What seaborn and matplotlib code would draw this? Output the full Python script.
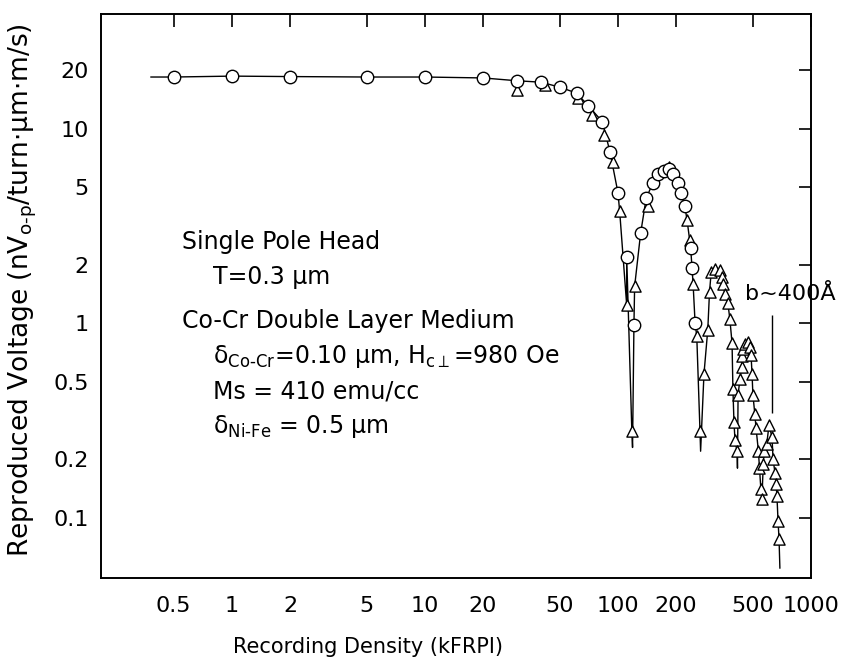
import numpy as np
import pandas as pd
import seaborn as sns
import matplotlib.pyplot as plt

# circles (measured points, series 1)
circle_x = [0.5, 1, 2, 5, 10, 20, 30, 40, 50, 61, 70, 83, 91, 100, 111, 121,
            131, 140, 152, 161, 173, 184, 193, 205, 212, 222, 238, 242, 251]
circle_y = [18.5, 18.7, 18.6, 18.5, 18.5, 18.3, 17.7, 17.4, 16.4, 15.3, 13.2,
            10.9, 7.6, 4.7, 2.2, 0.98, 2.9, 4.4, 5.3, 5.9, 6.1, 6.2, 5.9, 5.3,
            4.7, 4.0, 2.45, 1.92, 1.0]

# triangles (measured points, series 2)
tri_x = [30, 42, 62, 73, 85, 94, 102, 111, 118, 122, 143, 184,
         228, 235, 245, 256, 266,
         279, 292, 298, 304, 318, 338, 346, 350, 358, 371, 380, 390, 394, 399, 404, 414,
         419, 429, 437, 441, 444, 455, 470, 483, 489, 495, 500, 512, 519, 534, 541, 550, 557,
         566, 572, 590, 606, 628, 636, 651, 659, 666, 675, 683]
tri_y = [15.8, 16.8, 14.4, 11.8, 9.3, 6.8, 3.8, 1.24, 0.28, 1.55, 4.0, 6.4,
         3.4, 2.7, 1.6, 0.86, 0.28,
         0.55, 0.93, 1.45, 1.83, 1.91, 1.89, 1.74, 1.60, 1.42, 1.27, 1.05, 0.79, 0.46, 0.31, 0.25, 0.22,
         0.43, 0.52, 0.60, 0.68, 0.74, 0.78, 0.80, 0.76, 0.69, 0.55, 0.43, 0.34, 0.29, 0.22, 0.18, 0.14, 0.125,
         0.19, 0.22, 0.24, 0.30, 0.26, 0.20, 0.17, 0.15, 0.13, 0.096, 0.078]

# extra vertices of the drawn curve (start and bottoms of the dips)
curve_x = [0.38, 119, 268, 416, 690]
curve_y = [18.5, 0.23, 0.22, 0.18, 0.055]

x_ticks = [0.5, 1, 2, 5, 10, 20, 50, 100, 200, 500, 1000]
x_labels = ["0.5", "1", "2", "5", "10", "20", "50", "100", "200", "500", "1000"]
y_ticks = [0.1, 0.2, 0.5, 1, 2, 5, 10, 20]
y_labels = ["0.1", "0.2", "0.5", "1", "2", "5", "10", "20"]

circles = pd.DataFrame({"x": circle_x, "y": circle_y})
tris = pd.DataFrame({"x": tri_x, "y": tri_y})
extra = pd.DataFrame({"x": curve_x, "y": curve_y})

# the curve follows the circles on the plateau, both sets further on
on_curve = (tris.x >= 100) & ~tris.x.between(130, 200)
curve = pd.concat([circles, tris[on_curve], extra]).sort_values("x", kind="stable")

sns.set_style("white")
plt.rcParams["font.family"] = ["DejaVu Sans"]
plt.rcParams["mathtext.default"] = "regular"
plt.rcParams["text.color"] = "black"
plt.rcParams["axes.labelcolor"] = "black"

fig = plt.figure(figsize=(8.51, 6.66), dpi=100)
ax = fig.add_axes([0.1187, 0.1321, 0.8343, 0.8468])

sns.lineplot(data=curve, x="x", y="y", estimator=None, sort=True,
             color="black", linewidth=1.0, ax=ax)
sns.scatterplot(data=tris, x="x", y="y", marker="^", s=65, color="white",
                edgecolor="black", linewidth=1.0, zorder=3, ax=ax)
sns.scatterplot(data=circles, x="x", y="y", marker="o", s=80, color="white",
                edgecolor="black", linewidth=1.0, zorder=4, ax=ax)

ax.set_xscale("log")
ax.set_yscale("log")
ax.set_xlim(0.21, 1000)
ax.set_ylim(0.049, 39)
ax.set_xticks(x_ticks)
ax.set_xticklabels(x_labels)
ax.set_yticks(y_ticks)
ax.set_yticklabels(y_labels)
ax.minorticks_off()
ax.tick_params(direction="in", length=9, width=1.2, top=True, right=True,
               labelsize=16, colors="black")
ax.tick_params(axis="x", pad=13)
ax.tick_params(axis="y", pad=9)

for sp in ax.spines.values():
    sp.set_linewidth(1.4)
    sp.set_color("black")

ax.set_xlabel("Recording Density (kFRPI)", fontsize=15)
ax.xaxis.set_label_coords(0.376, -0.105)
ax.set_ylabel(r"Reproduced Voltage (nV$_{o\text{-}p}$/turn$\cdot$μm$\cdot$m/s)", fontsize=19)
ax.yaxis.set_label_coords(-0.088, 0.51)

# description block
info = [
    (0.114, 0.596, "Single Pole Head"),
    (0.158, 0.534, "T=0.3 μm"),
    (0.114, 0.456, "Co-Cr Double Layer Medium"),
    (0.158, 0.392, r"δ$_{Co\text{-}Cr}$=0.10 μm, H$_{c\perp}$=980 Oe"),
    (0.158, 0.330, "Ms = 410 emu/cc"),
    (0.158, 0.268, r"δ$_{Ni\text{-}Fe}$ = 0.5 μm"),
]
for tx, ty, s in info:
    ax.text(tx, ty, s, transform=ax.transAxes, fontsize=17, va="center", ha="left")

# bit length annotation
b_x = 628
b_y = (1.11, 0.345)
ax.vlines(b_x, b_y[1], b_y[0], color="black", linewidth=1.0)
ax.text(455, 1.41, "b~400Å", fontsize=16, va="center", ha="left", clip_on=False)

fig.savefig("out.png", dpi=100)
